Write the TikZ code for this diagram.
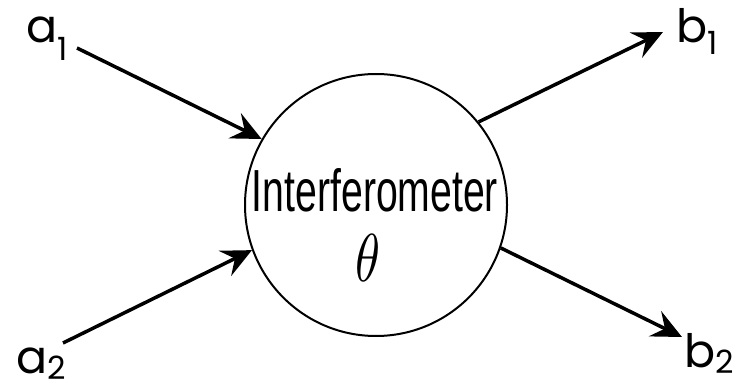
\documentclass[tikz,border=0pt]{standalone}
\usepackage{fontspec}
\setmainfont{Poppins}
\usetikzlibrary{arrows.meta}
\newcommand{\lbl}[3]{#1\raisebox{-#3pt}{\fontsize{32}{32}\selectfont #2}}
\tikzset{
  arr/.style={line width=3.5pt,-{Stealth[length=30pt,width=28pt,inset=11pt]}},
  lab/.style={inner sep=0pt,anchor=base west,font=\fontsize{46}{50}\selectfont},
  box/.style={circle,draw,line width=2pt,minimum size=262pt,inner sep=0pt}
}
\begin{document}
\begin{tikzpicture}[x=1pt,y=1pt]
\useasboundingbox (0,0) rectangle (736,-390);
\node[box] (int) at (376,-205) {};
\node[inner sep=0pt] (txt) at (375,-190) {\resizebox{246pt}{43pt}{\fontspec{Liberation Sans}Interferometer}};
\node[inner sep=0pt] (th) at (368,-258) {\resizebox{25pt}{47pt}{$\theta$}};
\node[lab] (a1) at (26,-43) {\lbl{a}{1}{18}};
\node[lab] (a2) at (16,-373) {\lbl{a}{2}{6}};
\node[lab] (b1) at (676,-43) {\lbl{b}{1}{12}};
\node[lab] (b2) at (684,-367) {\lbl{b}{2}{6}};
\coordinate (a1s) at (77,-48);
\coordinate (a2s) at (63,-343);
\coordinate (b1e) at (663,-32);
\coordinate (b2e) at (682,-337);
\draw[arr] (a1s) -- (int.150);
\draw[arr] (a2s) -- (int.200);
\draw[arr] (int.39) -- (b1e);
\draw[arr] (int.-19) -- (b2e);
\end{tikzpicture}
\end{document}
